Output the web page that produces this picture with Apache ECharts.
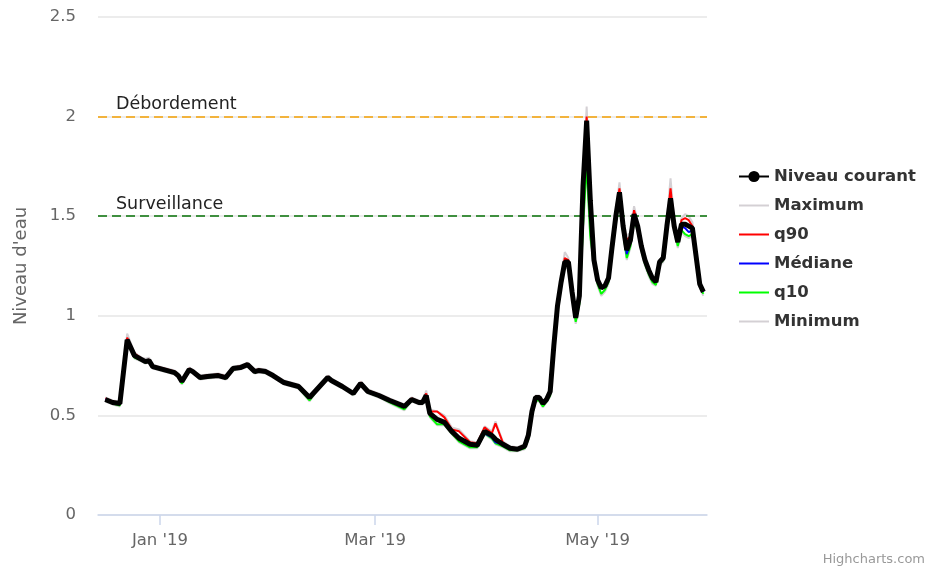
<!DOCTYPE html>
<html>
<head>
<meta charset="utf-8">
<script src="https://cdn.jsdelivr.net/npm/echarts@6/dist/echarts.min.js"></script>
<style>
html,body{margin:0;padding:0;background:#fff;}
#chart{width:933px;height:568px;}
</style>
</head>
<body>
<div id="chart"></div>
<script>
var dates = [
"2018-12-17","2018-12-19","2018-12-21","2018-12-23","2018-12-25","2018-12-27","2018-12-28","2018-12-29","2018-12-30","2019-01-02",
"2019-01-05","2019-01-06","2019-01-07","2019-01-09","2019-01-10","2019-01-12","2019-01-14","2019-01-17","2019-01-19","2019-01-21",
"2019-01-23","2019-01-25","2019-01-27","2019-01-28","2019-01-30","2019-02-01","2019-02-04","2019-02-06","2019-02-08","2019-02-11",
"2019-02-13","2019-02-16","2019-02-17","2019-02-20","2019-02-23","2019-02-25","2019-02-27","2019-03-02","2019-03-05","2019-03-09",
"2019-03-11","2019-03-13","2019-03-14","2019-03-15","2019-03-16","2019-03-18","2019-03-20","2019-03-22","2019-03-24","2019-03-27",
"2019-03-29","2019-03-31","2019-04-02","2019-04-03","2019-04-05","2019-04-07","2019-04-09","2019-04-11","2019-04-12","2019-04-13",
"2019-04-14","2019-04-15","2019-04-16","2019-04-17","2019-04-18","2019-04-19","2019-04-20","2019-04-21","2019-04-22","2019-04-23",
"2019-04-24","2019-04-25","2019-04-26","2019-04-27","2019-04-28","2019-04-29","2019-04-30","2019-05-01","2019-05-02","2019-05-03",
"2019-05-04","2019-05-05","2019-05-06","2019-05-07","2019-05-08","2019-05-09","2019-05-10","2019-05-11","2019-05-12","2019-05-13",
"2019-05-14","2019-05-15","2019-05-16","2019-05-17","2019-05-18","2019-05-19","2019-05-20","2019-05-21","2019-05-22","2019-05-23",
"2019-05-24","2019-05-25","2019-05-26","2019-05-27","2019-05-28","2019-05-29","2019-05-30"
];

var niveauCourant = [
0.58,0.565,0.56,0.88,0.80,0.78,0.77,0.775,0.745,0.73,
0.715,0.70,0.67,0.73,0.72,0.69,0.695,0.70,0.69,0.735,
0.74,0.755,0.72,0.725,0.72,0.70,0.665,0.655,0.645,0.59,
0.63,0.69,0.675,0.645,0.61,0.66,0.62,0.60,0.575,0.545,
0.58,0.565,0.565,0.60,0.51,0.48,0.465,0.42,0.385,0.355,
0.35,0.42,0.40,0.38,0.355,0.335,0.33,0.345,0.40,0.52,
0.59,0.59,0.56,0.58,0.62,0.85,1.05,1.17,1.27,1.27,
1.12,0.99,1.10,1.65,1.98,1.58,1.28,1.18,1.14,1.15,
1.19,1.35,1.50,1.62,1.45,1.33,1.38,1.51,1.45,1.35,
1.28,1.23,1.19,1.17,1.27,1.29,1.45,1.59,1.45,1.37,
1.46,1.46,1.45,1.44,1.30,1.16,1.12
];

var maximum = [
0.59,0.575,0.57,0.91,0.815,0.79,0.785,0.79,0.755,0.74,
0.725,0.71,0.68,0.74,0.73,0.70,0.705,0.71,0.70,0.745,
0.75,0.765,0.73,0.735,0.73,0.71,0.675,0.665,0.655,0.60,
0.64,0.70,0.685,0.655,0.62,0.67,0.63,0.61,0.585,0.555,
0.59,0.575,0.575,0.625,0.53,0.52,0.50,0.44,0.43,0.37,
0.365,0.445,0.42,0.47,0.37,0.345,0.34,0.355,0.41,0.53,
0.60,0.60,0.57,0.59,0.63,0.87,1.07,1.19,1.32,1.29,
1.14,1.01,1.12,1.68,2.05,1.62,1.30,1.19,1.15,1.16,
1.20,1.37,1.53,1.67,1.48,1.40,1.42,1.55,1.47,1.37,
1.29,1.24,1.20,1.18,1.28,1.30,1.48,1.69,1.48,1.39,
1.49,1.51,1.50,1.47,1.32,1.17,1.13
];

var q90 = [
0.585,0.57,0.565,0.89,0.81,0.785,0.775,0.78,0.75,0.735,
0.72,0.705,0.675,0.735,0.725,0.695,0.70,0.705,0.695,0.74,
0.745,0.76,0.725,0.73,0.725,0.705,0.67,0.66,0.65,0.595,
0.635,0.695,0.68,0.65,0.615,0.665,0.625,0.605,0.58,0.55,
0.585,0.57,0.57,0.61,0.52,0.52,0.49,0.43,0.42,0.365,
0.36,0.44,0.41,0.46,0.365,0.34,0.335,0.35,0.405,0.525,
0.595,0.595,0.565,0.585,0.625,0.86,1.06,1.18,1.29,1.28,
1.13,1.00,1.11,1.66,2.00,1.60,1.29,1.185,1.145,1.155,
1.195,1.36,1.51,1.64,1.46,1.38,1.40,1.53,1.46,1.36,
1.285,1.235,1.195,1.175,1.275,1.295,1.46,1.64,1.46,1.38,
1.48,1.49,1.48,1.45,1.31,1.165,1.125
];

var mediane = [
0.58,0.565,0.56,0.88,0.80,0.78,0.77,0.775,0.745,0.73,
0.715,0.70,0.67,0.73,0.72,0.69,0.695,0.70,0.69,0.735,
0.74,0.755,0.72,0.725,0.72,0.70,0.665,0.655,0.645,0.59,
0.63,0.69,0.675,0.645,0.61,0.66,0.62,0.60,0.575,0.545,
0.58,0.565,0.565,0.60,0.51,0.48,0.465,0.42,0.385,0.355,
0.35,0.41,0.39,0.365,0.355,0.335,0.33,0.345,0.40,0.52,
0.59,0.59,0.56,0.58,0.62,0.85,1.05,1.17,1.27,1.27,
1.12,0.99,1.10,1.65,1.97,1.57,1.28,1.18,1.14,1.15,
1.19,1.35,1.50,1.61,1.44,1.31,1.37,1.50,1.44,1.35,
1.28,1.23,1.19,1.17,1.27,1.29,1.45,1.58,1.44,1.37,
1.45,1.44,1.42,1.43,1.29,1.16,1.12
];

var q10 = [
0.575,0.56,0.55,0.87,0.79,0.775,0.765,0.77,0.74,0.725,
0.71,0.695,0.66,0.725,0.715,0.685,0.69,0.695,0.685,0.73,
0.735,0.75,0.715,0.72,0.715,0.695,0.66,0.65,0.64,0.575,
0.625,0.685,0.67,0.64,0.605,0.655,0.615,0.595,0.565,0.53,
0.575,0.56,0.56,0.59,0.495,0.455,0.455,0.41,0.37,0.34,
0.34,0.41,0.385,0.36,0.345,0.325,0.325,0.335,0.38,0.50,
0.575,0.575,0.545,0.57,0.60,0.82,1.02,1.15,1.25,1.25,
1.10,0.97,1.06,1.45,1.76,1.40,1.26,1.16,1.11,1.13,
1.17,1.32,1.47,1.58,1.42,1.29,1.35,1.48,1.43,1.33,
1.26,1.21,1.17,1.155,1.26,1.28,1.43,1.56,1.43,1.35,
1.43,1.41,1.40,1.41,1.28,1.15,1.11
];

var minimum = [
0.57,0.555,0.545,0.86,0.785,0.77,0.76,0.765,0.735,0.72,
0.705,0.69,0.655,0.72,0.71,0.68,0.685,0.69,0.68,0.725,
0.73,0.745,0.71,0.715,0.71,0.69,0.655,0.645,0.635,0.57,
0.62,0.68,0.665,0.635,0.60,0.65,0.61,0.59,0.56,0.525,
0.57,0.555,0.555,0.585,0.49,0.45,0.45,0.405,0.365,0.335,
0.335,0.405,0.38,0.355,0.34,0.32,0.32,0.33,0.375,0.495,
0.57,0.57,0.54,0.565,0.595,0.81,1.01,1.14,1.24,1.24,
1.09,0.96,1.05,1.43,1.74,1.38,1.25,1.15,1.10,1.12,
1.16,1.31,1.46,1.57,1.41,1.28,1.34,1.47,1.42,1.32,
1.25,1.20,1.16,1.15,1.25,1.27,1.42,1.55,1.42,1.34,
1.42,1.40,1.39,1.40,1.27,1.14,1.10
];

var tickDates = ["2019-01-01", "2019-03-01", "2019-05-01"];
var tickLabels = ["Jan '19", "Mar '19", "May '19"];
var axisRange = ["2018-12-15", "2019-05-31"];
var seriesNames = ["Niveau courant", "Maximum", "q90", "Médiane", "q10", "Minimum"];
var thresholdValues = [2, 1.5];
var thresholdNames = ["Débordement", "Surveillance"];

var FONT = "DejaVu Sans";
function ts(d) { return Date.UTC(+d.slice(0, 4), +d.slice(5, 7) - 1, +d.slice(8, 10)); }
function pairs(vals) { return dates.map(function (d, i) { return [ts(d), vals[i]]; }); }
var tickTs = tickDates.map(ts);

function fmtX(v) {
  for (var i = 0; i < tickTs.length; i++) {
    if (Math.abs(tickTs[i] - v) < 43200000) return tickLabels[i];
  }
  return "";
}

var chart = echarts.init(document.getElementById("chart"), null, { renderer: "canvas" });

function lineSeries(name, vals, color, width, z) {
  return {
    name: name, type: "line", data: pairs(vals), z: z,
    symbol: "none", showSymbol: false, smooth: false,
    lineStyle: { color: color, width: width }, itemStyle: { color: color },
    emphasis: { disabled: true }, animation: false
  };
}

var sMax = lineSeries(seriesNames[1], maximum, "#d4d0d4", 2, 2);
sMax.markLine = {
  silent: true, symbol: "none", animation: false,
  data: [
    { yAxis: thresholdValues[0], lineStyle: { color: "#f2b33d", type: [9, 5], width: 2 },
      label: { formatter: thresholdNames[0] } },
    { yAxis: thresholdValues[1], lineStyle: { color: "#3f8f3f", type: [9, 5], width: 2 },
      label: { formatter: thresholdNames[1] } }
  ],
  label: { show: true, position: "insideStartTop", distance: [18, 3], color: "#222",
           fontSize: 17.5, fontFamily: FONT }
};

var sNC = lineSeries(seriesNames[0], niveauCourant, "#000000", 5, 10);
sNC.symbol = "circle";
sNC.symbolSize = 11;
sNC.showSymbol = false;

var legendData = seriesNames.map(function (n, i) {
  return i === 0 ? { name: n } : { name: n, itemStyle: { opacity: 0 } };
});

var option = {
  backgroundColor: "#ffffff",
  animation: false,
  textStyle: { fontFamily: FONT },
  grid: { left: 98, right: 226, top: 17, bottom: 53, containLabel: false },
  xAxis: {
    type: "value",
    min: ts(axisRange[0]), max: ts(axisRange[1]),
    axisLine: { show: true, lineStyle: { color: "#ccd6eb", width: 1.5 } },
    axisTick: { show: true, customValues: tickTs, length: 10, lineStyle: { color: "#ccd6eb", width: 1.5 } },
    axisLabel: { customValues: tickTs, formatter: fmtX, color: "#666", fontSize: 16.5, fontFamily: FONT, margin: 17 },
    splitLine: { show: false }
  },
  yAxis: {
    type: "value", min: 0, max: 2.5, interval: 0.5,
    name: "Niveau d'eau", nameLocation: "middle", nameGap: 68, nameRotate: 90,
    nameTextStyle: { color: "#666", fontSize: 18, fontFamily: FONT },
    axisLine: { show: false }, axisTick: { show: false },
    axisLabel: { color: "#666", fontSize: 16.5, fontFamily: FONT, margin: 22 },
    splitLine: { lineStyle: { color: "#e6e6e6", width: 1.5 } }
  },
  legend: {
    orient: "vertical", left: 733, top: 163,
    data: legendData,
    itemWidth: 30, itemHeight: 14, itemGap: 12,
    textStyle: { color: "#333", fontWeight: "bold", fontSize: 16.5, fontFamily: FONT },
    selectedMode: false
  },
  series: [
    sNC,
    sMax,
    lineSeries(seriesNames[2], q90, "#ff0000", 2, 4),
    lineSeries(seriesNames[3], mediane, "#0000ff", 2, 5),
    lineSeries(seriesNames[4], q10, "#00ff00", 2, 4),
    lineSeries(seriesNames[5], minimum, "#d4d0d4", 2, 2)
  ],
  graphic: [{
    type: "text", right: 8, bottom: 2,
    style: { text: "Highcharts.com", fill: "#999", fontSize: 13, fontFamily: FONT }
  }]
};
chart.setOption(option);
</script>
</body>
</html>
